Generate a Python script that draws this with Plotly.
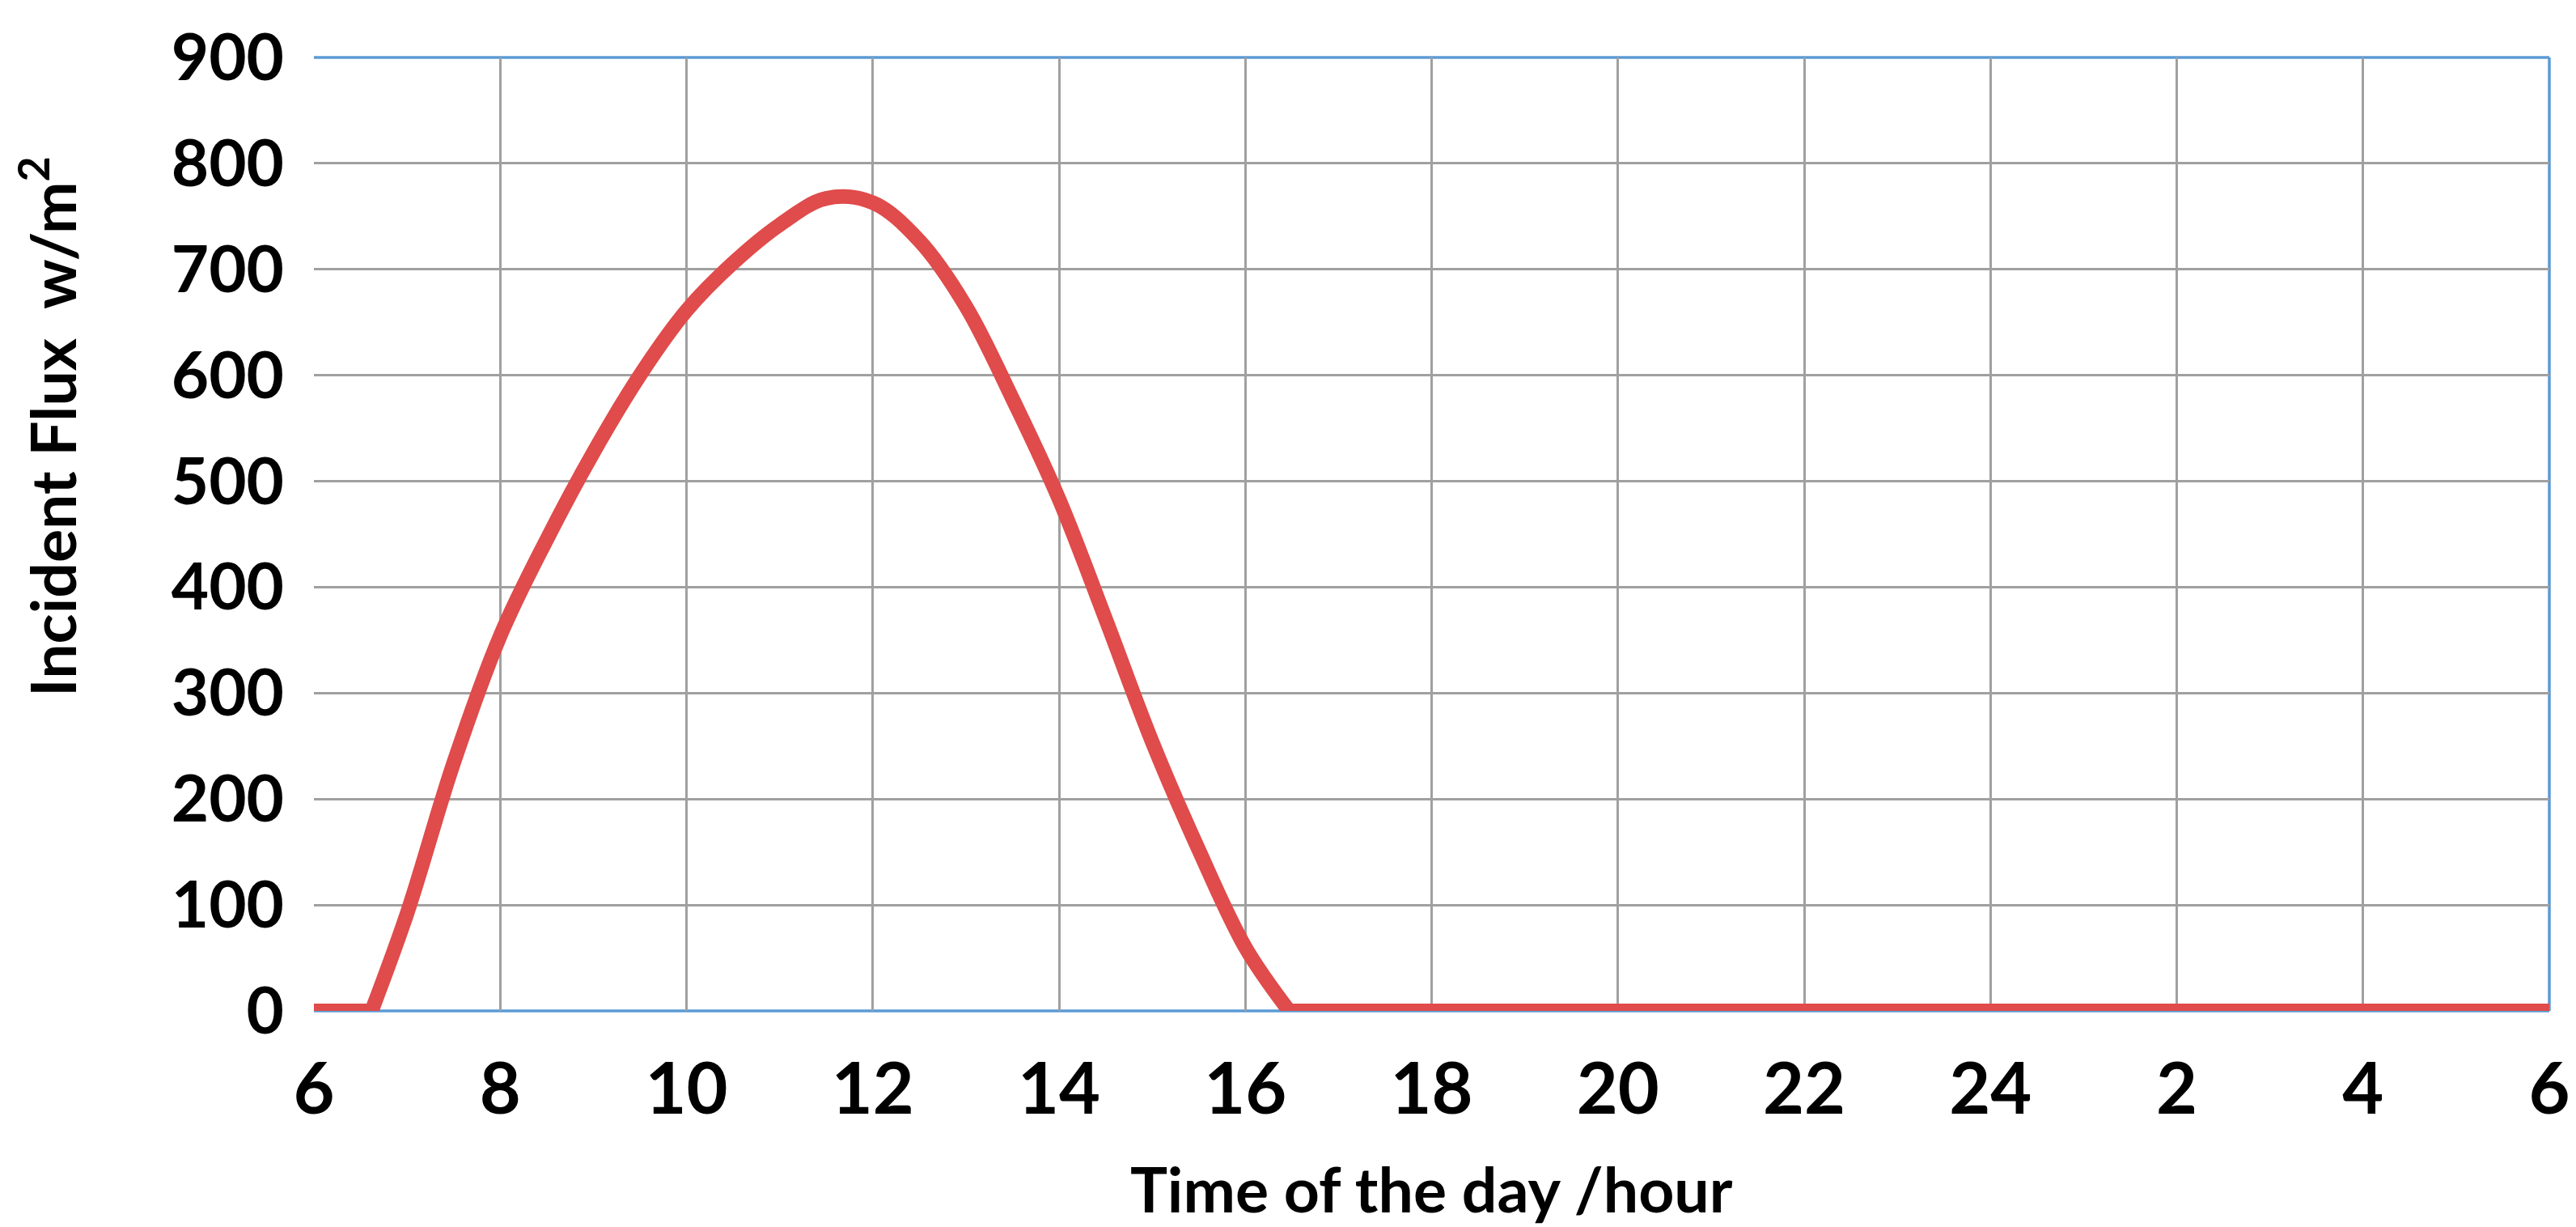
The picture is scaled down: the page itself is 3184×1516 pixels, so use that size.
import plotly.graph_objects as go

# ---- data ----
hours = [6.0, 6.62, 7.0, 7.5, 8.0, 8.5, 9.0, 9.5, 10.0, 10.5, 11.0, 11.5,
         12.0, 12.5, 13.0, 13.5, 14.0, 14.5, 15.0, 15.5, 16.0, 16.47, 30.0]
flux = [0, 0, 92, 234, 354, 445, 527, 600, 661, 706, 742, 767,
        763, 727, 665, 578, 483, 370, 254, 152, 60, 0, 0]

x_tickvals = [6, 8, 10, 12, 14, 16, 18, 20, 22, 24, 26, 28, 30]
x_ticktext = ["6", "8", "10", "12", "14", "16", "18", "20", "22", "24", "2", "4", "6"]
y_tickvals = [0, 100, 200, 300, 400, 500, 600, 700, 800, 900]

x_title = "Time of the day /hour"
y_title = "Incident Flux  w/m<sup>2</sup>"

RED = "#E04B4B"
BLUE = "#5B9BD5"
GRID = "#A0A0A0"
FONT = "Lato"

# split into daytime hump (smoothed) and night-time flat part
rise = 1
sets = len(hours) - 2
hump_x = hours[rise:sets + 1]
hump_y = flux[rise:sets + 1]
flat_x = hours[:rise + 1] + [None] + hours[sets:]
flat_y = flux[:rise + 1] + [None] + flux[sets:]

fig = go.Figure()
fig.add_trace(go.Scatter(x=flat_x, y=flat_y, mode="lines",
                         line=dict(color=RED, width=18), showlegend=False))
fig.add_trace(go.Scatter(x=hump_x, y=hump_y, mode="lines",
                         line=dict(color=RED, width=18, shape="spline", smoothing=1.0),
                         showlegend=False))

fig.update_layout(
    width=3184, height=1516,
    margin=dict(l=380, r=41, t=53, b=275),
    paper_bgcolor="white", plot_bgcolor="white",
    showlegend=False,
    font=dict(family=FONT, color="black"),
)

fig.update_xaxes(
    range=[6, 30], tickvals=x_tickvals, ticktext=x_ticktext,
    showgrid=True, gridcolor=GRID, gridwidth=3,
    showline=False, zeroline=False, ticks="",
    tickfont=dict(family=FONT, size=88, color="black", weight="bold"),
    ticklabelstandoff=38,
    layer="below traces",
)
fig.update_yaxes(
    range=[0, 900], tickvals=y_tickvals,
    showgrid=True, gridcolor=GRID, gridwidth=3,
    zeroline=False, showline=False, ticks="",
    tickfont=dict(family=FONT, size=80, color="black", weight="bold"),
    ticklabelstandoff=36,
    layer="below traces",
)

# blue top, right and bottom borders of the plot area
for x0, x1, y0, y1 in [(0, 1, 1, 1), (1, 1, 0, 1), (0, 1, 0, 0)]:
    fig.add_shape(type="line", xref="paper", yref="paper", x0=x0, x1=x1, y0=y0, y1=y1,
                  line=dict(color=BLUE, width=3.5), layer="below")

fig.add_annotation(text=y_title, xref="paper", yref="paper",
                   x=-0.119, y=0.613, xanchor="center", yanchor="middle",
                   textangle=-90, showarrow=False,
                   font=dict(family=FONT, size=77, color="black", weight="bold"))
fig.add_annotation(text=x_title, xref="paper", yref="paper",
                   x=0.5, y=-0.186, xanchor="center", yanchor="middle",
                   showarrow=False,
                   font=dict(family=FONT, size=77, color="black", weight="bold"))

fig.write_html("out.html")
